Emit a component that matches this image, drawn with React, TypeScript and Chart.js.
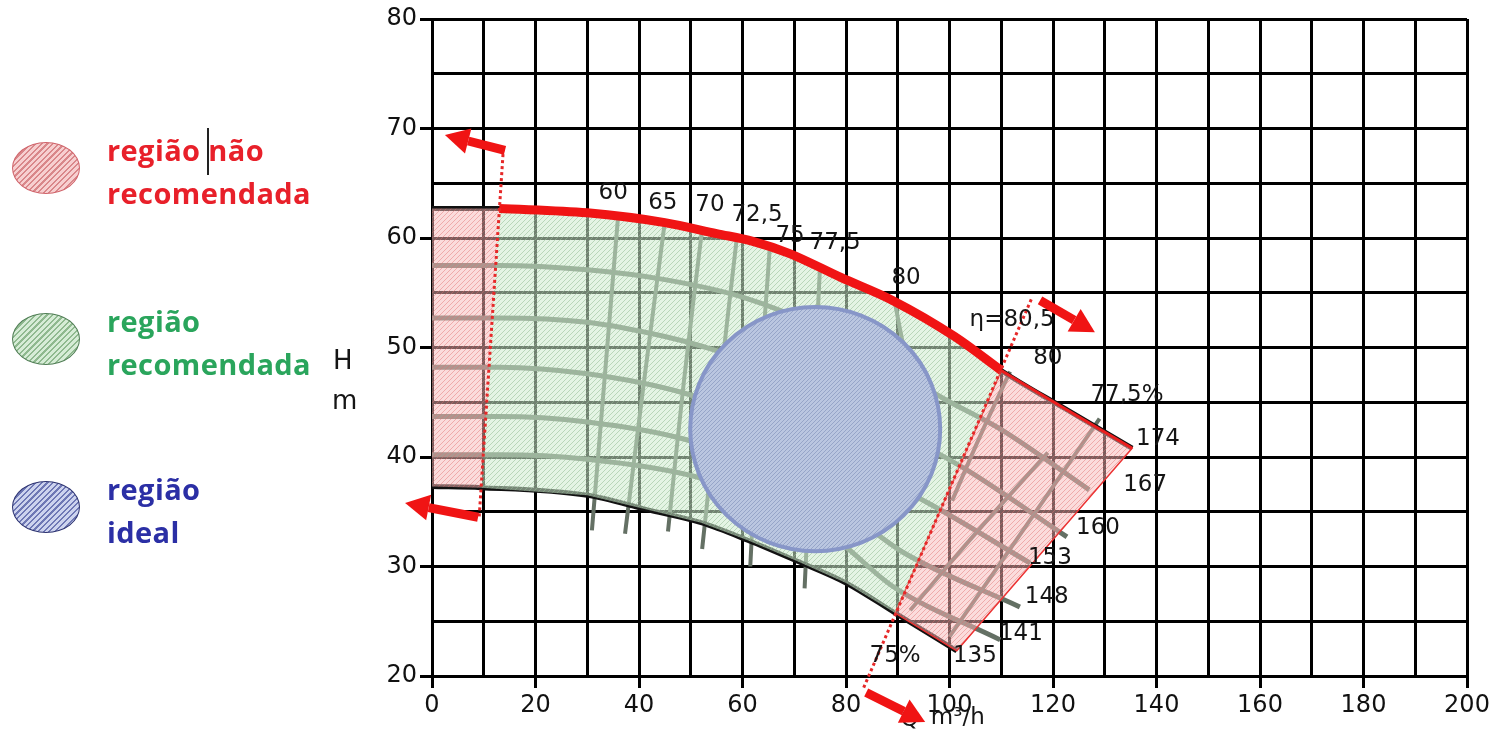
import React, { useEffect, useRef } from "react";
import { Chart, registerables } from "chart.js";
Chart.register(...registerables);

const WIDTH = 1493;
const HEIGHT = 735;

// axes
const Q_MIN = 0, Q_MAX = 200, Q_GRID = 10, Q_LABEL = 20;
const H_MIN = 20, H_MAX = 80, H_GRID = 5, H_LABEL = 10;

// impeller curves (Q in m³/h, H in m), diameters in mm
const q174 = [0, 13, 30, 45, 55, 62, 69, 79, 89, 101, 110, 122, 135.3];
const h174 = [62.7, 62.7, 62.3, 61.4, 60.4, 59.7, 58.6, 56.4, 54.3, 51.0, 47.9, 44.5, 40.8];
const q167 = [0, 13, 30, 45, 60, 75, 90, 99, 110, 127];
const h167 = [57.5, 57.5, 57.1, 56.2, 54.6, 51.8, 47.8, 45.3, 42.5, 37.0];
const q160 = [0, 13, 30, 45, 53, 70, 88, 103.4, 122.7];
const h160 = [52.7, 52.7, 52.3, 51.0, 50.0, 47.2, 42.8, 38.8, 32.7];
const q153 = [0, 13, 30, 49, 65, 82, 97, 115.6];
const h153 = [48.2, 48.2, 47.6, 45.8, 43.0, 39.2, 35.5, 30.3];
const q148 = [0, 13, 30, 49, 65, 80, 91, 113.6];
const h148 = [43.7, 43.7, 43.2, 41.6, 38.8, 35.0, 31.3, 26.3];
const q141 = [0, 13, 30, 51, 65, 78, 89, 109.8];
const h141 = [40.2, 40.2, 39.8, 38.2, 35.8, 32.5, 28.2, 23.3];
const q135 = [0, 9.5, 30, 41.5, 52, 61, 70.5, 80, 89.5, 101.4];
const h135 = [37.3, 37.2, 36.5, 35.2, 34.0, 32.4, 30.5, 28.5, 25.75, 22.3];

// iso-efficiency lines
const e60Q = [36, 33.5, 30.9], e60H = [62.2, 48, 33.3];
const e65Q = [45, 41, 37.3], e65H = [61.5, 47, 33.0];
const e70Q = [52.2, 48.7, 45.6], e70H = [60.8, 47, 33.2];
const e725Q = [58.9, 55.5, 52.2], e725H = [60.0, 46, 31.6];
const e75Q = [65.3, 63.2, 61.5], e75H = [59.3, 45, 30.0];
const e775Q = [75, 73.5, 72], e775H = [57.6, 43, 28.0];
const e80Q = [89.5, 92.5, 94], e80H = [54.0, 46, 36];
const e80rQ = [111.7, 106, 100.5], e80rH = [47.8, 42, 36];
const e775rQ = [129, 114.5, 100], e775rH = [43.5, 33.5, 23.6];
const e75rQ = [119, 105, 92.4], e75rH = [40.4, 33, 26];

// operating limits (dotted red lines)
const limitLeftQ = [13.8, 9.1], limitLeftH = [68.2, 34.4];
const limitRightQ = [115.8, 83.3], limitRightH = [54.4, 18.8];

// ideal region (ellipse extents)
const idealQ = [49.9, 98.2];
const idealH = [31.4, 53.7];

// annotations on the chart
const labelText = ["60", "65", "70", "72,5", "75", "77,5", "80", "η=80,5", "80", "77,5%", "174", "167", "160", "153", "148", "141", "135", "75%"];
const labelQ = [35.0, 44.6, 53.7, 62.8, 69.2, 77.9, 91.6, 112.1, 119.0, 134.3, 140.3, 137.8, 128.7, 119.4, 118.8, 113.8, 104.9, 89.5];
const labelH = [64.1, 63.2, 63.0, 62.1, 60.2, 59.5, 56.3, 52.5, 49.0, 45.7, 41.6, 37.4, 33.5, 30.8, 27.2, 23.8, 21.8, 21.8];

// arrows
const arrowFromQ = [14.1, 8.9, 117.5, 83.9];
const arrowFromH = [68.0, 34.5, 54.3, 18.5];
const arrowToQ = [2.5, -5.2, 128.1, 95.3];
const arrowToH = [69.4, 35.8, 51.4, 15.8];

const unitQ = [92.3, 101.6];
const unitH = [16.0, 16.2];

type P = { x: number; y: number };
const pts = (q: number[], h: number[]): P[] => q.map((x, i) => ({ x, y: h[i] }));

function makePattern(ctx: CanvasRenderingContext2D, bg: string, fg: string, size: number, lw: number) {
  const c = document.createElement("canvas");
  c.width = size;
  c.height = size;
  const p = c.getContext("2d")!;
  p.fillStyle = bg;
  p.fillRect(0, 0, size, size);
  p.strokeStyle = fg;
  p.lineWidth = lw;
  p.beginPath();
  p.moveTo(0, size); p.lineTo(size, 0);
  p.moveTo(-size / 2, size / 2); p.lineTo(size / 2, -size / 2);
  p.moveTo(size / 2, size * 1.5); p.lineTo(size * 1.5, size / 2);
  p.stroke();
  return ctx.createPattern(c, "repeat")!;
}

function drawArrow(ctx: CanvasRenderingContext2D, x1: number, y1: number, x2: number, y2: number) {
  const a = Math.atan2(y2 - y1, x2 - x1);
  const hl = 24, hw = 26;
  const bx = x2 - hl * Math.cos(a), by = y2 - hl * Math.sin(a);
  ctx.strokeStyle = "rgb(240,20,20)";
  ctx.fillStyle = "rgb(240,20,20)";
  ctx.lineWidth = 9;
  ctx.lineCap = "butt";
  ctx.setLineDash([]);
  ctx.beginPath(); ctx.moveTo(x1, y1); ctx.lineTo(bx, by); ctx.stroke();
  ctx.beginPath();
  ctx.moveTo(x2, y2);
  ctx.lineTo(bx + (hw / 2) * Math.sin(a), by - (hw / 2) * Math.cos(a));
  ctx.lineTo(bx - (hw / 2) * Math.sin(a), by + (hw / 2) * Math.cos(a));
  ctx.closePath();
  ctx.fill();
}

const legendItems = [
  { lines: ["região não", "recomendada"], color: "#e8202a", top: 142, fill: "#f7cfd0", hatch: "#d9878a", border: "#d0636a" },
  { lines: ["região", "recomendada"], color: "#2aa55c", top: 313, fill: "#d6ecd6", hatch: "#8fb98f", border: "#4f7d54" },
  { lines: ["região", "ideal"], color: "#2b2fa5", top: 481, fill: "#cdd3ee", hatch: "#6f78b5", border: "#2c3270" },
];

export default function App() {
  const ref = useRef<HTMLCanvasElement>(null);

  useEffect(() => {
    const canvas = ref.current!;
    const ctx = canvas.getContext("2d")!;
    const greenPat = makePattern(ctx, "rgba(205,235,205,0.55)", "rgba(150,190,150,0.55)", 5, 1);
    const pinkPat = makePattern(ctx, "rgba(248,185,185,0.5)", "rgba(225,110,110,0.45)", 5, 1);
    const bluePat = makePattern(ctx, "rgb(186,198,224)", "rgb(150,165,200)", 4, 1);

    const top = pts(q174, h174);
    const bot = pts(q135, h135);
    const leftRed = [...top.filter((p) => p.x <= 13), ...bot.filter((p) => p.x <= 9.5).reverse()];
    leftRed.push(leftRed[0]);
    const green = [...top.filter((p) => p.x >= 13 && p.x <= 110), ...bot.filter((p) => p.x >= 9.5 && p.x <= 89.5).reverse()];
    green.push(green[0]);
    const rightRed = [...top.filter((p) => p.x >= 110), ...bot.filter((p) => p.x >= 89.5).reverse()];
    rightRed.push(rightRed[0]);

    const gray = "rgb(100,112,100)";
    const curve = (data: P[], color: string, width: number, order: number, extra: any = {}) => ({
      data, borderColor: color, borderWidth: width, pointRadius: 0, fill: false,
      cubicInterpolationMode: "monotone", order, ...extra,
    });
    const eff = (q: number[], h: number[]) => ({
      data: pts(q, h), borderColor: gray, borderWidth: 4, pointRadius: 0, fill: false, tension: 0.4, order: 20,
    });
    const poly = (data: P[], pattern: CanvasPattern, border: string, bw: number) => ({
      data, backgroundColor: pattern, borderColor: border, borderWidth: bw, pointRadius: 0,
      fill: "shape", tension: 0, order: 10,
    });

    const overlay = {
      id: "overlay",
      afterDatasetsDraw(chart: any) {
        const c = chart.ctx as CanvasRenderingContext2D;
        const xs = chart.scales.x, ys = chart.scales.y;
        const x0 = xs.getPixelForValue(idealQ[0]), x1 = xs.getPixelForValue(idealQ[1]);
        const y0 = ys.getPixelForValue(idealH[0]), y1 = ys.getPixelForValue(idealH[1]);
        c.save();
        c.beginPath();
        c.ellipse((x0 + x1) / 2, (y0 + y1) / 2, Math.abs(x1 - x0) / 2, Math.abs(y1 - y0) / 2, 0, 0, Math.PI * 2);
        c.fillStyle = bluePat;
        c.fill();
        c.lineWidth = 4;
        c.strokeStyle = "rgb(135,150,200)";
        c.stroke();
        c.restore();
      },
      afterDraw(chart: any) {
        const c = chart.ctx as CanvasRenderingContext2D;
        const xs = chart.scales.x, ys = chart.scales.y;
        c.save();
        c.font = "23px 'DejaVu Sans'";
        c.fillStyle = "#151515";
        c.textAlign = "center";
        c.textBaseline = "middle";
        labelText.forEach((t, i) => {
          c.fillText(t, xs.getPixelForValue(labelQ[i]), ys.getPixelForValue(labelH[i]));
        });
        c.fillText("Q", xs.getPixelForValue(unitQ[0]), ys.getPixelForValue(unitH[0]));
        c.fillText("m³/h", xs.getPixelForValue(unitQ[1]), ys.getPixelForValue(unitH[1]));
        arrowFromQ.forEach((_, i) => {
          drawArrow(c, xs.getPixelForValue(arrowFromQ[i]), ys.getPixelForValue(arrowFromH[i]),
            xs.getPixelForValue(arrowToQ[i]), ys.getPixelForValue(arrowToH[i]));
        });
        c.restore();
      },
    };

    const chart = new Chart(canvas, {
      type: "line",
      data: {
        datasets: [
          curve(pts(q167, h167), gray, 5, 20),
          curve(pts(q160, h160), gray, 5, 20),
          curve(pts(q153, h153), gray, 5, 20),
          curve(pts(q148, h148), gray, 5, 20),
          curve(pts(q141, h141), gray, 5, 20),
          eff(e60Q, e60H), eff(e65Q, e65H), eff(e70Q, e70H), eff(e725Q, e725H),
          eff(e75Q, e75H), eff(e775Q, e775H), eff(e80Q, e80H),
          eff(e80rQ, e80rH), eff(e775rQ, e775rH), eff(e75rQ, e75rH),
          curve(top, "#111", 5, 15),
          curve(bot, "#111", 5, 15),
          poly(leftRed, pinkPat, "rgba(0,0,0,0)", 0),
          poly(green, greenPat, "rgba(0,0,0,0)", 0),
          poly(rightRed, pinkPat, "rgb(235,50,50)", 1.5),
          curve(top.filter((p) => p.x >= 13 && p.x <= 110), "rgb(240,20,20)", 9, 3),
          curve(top.filter((p) => p.x >= 110), "rgb(235,30,30)", 3, 3),
          { data: pts(limitLeftQ, limitLeftH), borderColor: "rgb(230,40,40)", borderWidth: 3, borderDash: [3, 3], pointRadius: 0, fill: false, order: 2, clip: false },
          { data: pts(limitRightQ, limitRightH), borderColor: "rgb(230,40,40)", borderWidth: 3, borderDash: [3, 3], pointRadius: 0, fill: false, order: 2, clip: false },
        ] as any,
      },
      options: {
        responsive: false,
        animation: false,
        devicePixelRatio: 1,
        events: [],
        layout: { padding: { top: 19, right: 26, left: 0, bottom: 0 } },
        plugins: { legend: { display: false }, tooltip: { enabled: false } },
        scales: {
          x: {
            type: "linear",
            min: Q_MIN,
            max: Q_MAX,
            afterFit: (s: any) => { s.height = 59; },
            ticks: {
              stepSize: Q_GRID,
              autoSkip: false,
              maxRotation: 0,
              padding: 3,
              color: "#111",
              font: { family: "DejaVu Sans", size: 24 },
              callback: (v: any) => (Number(v) % Q_LABEL === 0 ? String(v) : ""),
            },
            grid: {
              color: "#000",
              lineWidth: 3,
              tickLength: 12,
              tickWidth: 3,
              tickColor: (c: any) => (c.tick && c.tick.value % Q_LABEL === 0 ? "#000" : "rgba(0,0,0,0)"),
            },
            border: { color: "#000", width: 3 },
          },
          y: {
            type: "linear",
            min: H_MIN,
            max: H_MAX,
            afterFit: (s: any) => { s.width = 432; },
            ticks: {
              stepSize: H_GRID,
              autoSkip: false,
              padding: 3,
              color: "#111",
              font: { family: "DejaVu Sans", size: 24 },
              callback: (v: any) => (Number(v) % H_LABEL === 0 ? String(v) : ""),
            },
            grid: {
              color: "#000",
              lineWidth: 3,
              tickLength: 12,
              tickWidth: 3,
              tickColor: (c: any) => (c.tick && c.tick.value % H_LABEL === 0 ? "#000" : "rgba(0,0,0,0)"),
            },
            border: { color: "#000", width: 3 },
          },
        },
      } as any,
      plugins: [overlay],
    });
    return () => chart.destroy();
  }, []);

  return (
    <div style={{ position: "absolute", left: 0, top: 0, width: WIDTH, height: HEIGHT, background: "#fff", overflow: "hidden" }}>
      <canvas ref={ref} width={WIDTH} height={HEIGHT} style={{ position: "absolute", left: 0, top: 0 }} />
      {legendItems.map((it, i) => (
        <React.Fragment key={i}>
          <div
            style={{
              position: "absolute", left: 12, top: it.top, width: 68, height: 52, borderRadius: "50%",
              border: `1.5px solid ${it.border}`, boxSizing: "border-box",
              background: `repeating-linear-gradient(135deg, ${it.hatch} 0px, ${it.hatch} 1.5px, ${it.fill} 1.5px, ${it.fill} 4px)`,
            }}
          />
          {it.lines.map((l, j) => (
            <div
              key={j}
              style={{
                position: "absolute", left: 107, top: it.top - 12 + j * 43, height: 43, lineHeight: "43px",
                font: "bold 29px 'Open Sans'", letterSpacing: "0.4px", color: it.color, whiteSpace: "nowrap",
              }}
            >
              {l}
            </div>
          ))}
        </React.Fragment>
      ))}
      <div style={{ position: "absolute", left: 207, top: 128, width: 1.5, height: 47, background: "#222" }} />
      <div style={{ position: "absolute", left: 333, top: 345, font: "26px 'DejaVu Sans'", color: "#151515" }}>H</div>
      <div style={{ position: "absolute", left: 332, top: 385, font: "26px 'DejaVu Sans'", color: "#151515" }}>m</div>
    </div>
  );
}
